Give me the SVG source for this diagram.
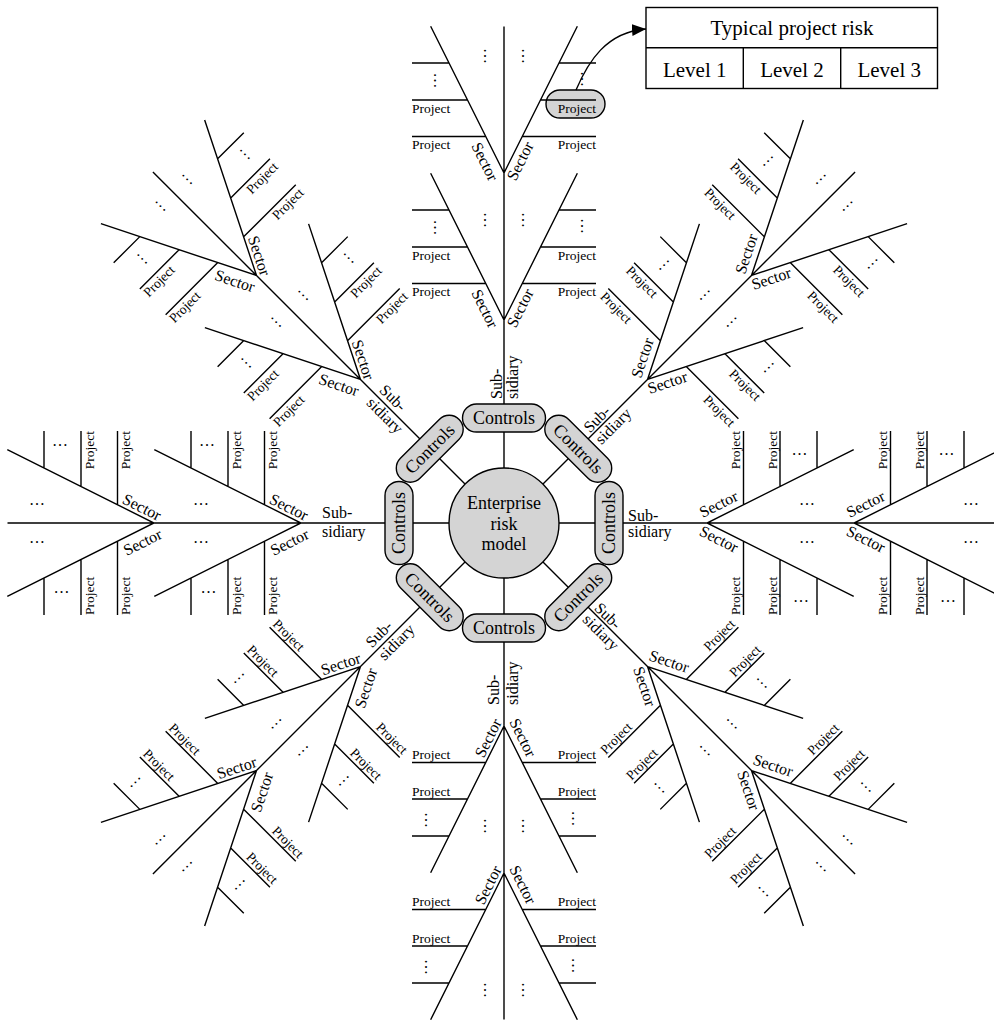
<svg xmlns="http://www.w3.org/2000/svg" xmlns:xlink="http://www.w3.org/1999/xlink" width="994" height="1021" viewBox="0 0 994 1021">
<style>
.ln{fill:none;stroke:#000;stroke-width:1.4}
.box{fill:#d4d4d4;stroke:#000;stroke-width:1.4}
.tb{fill:#fff;stroke:#000;stroke-width:1.4}
text{font-family:"Liberation Serif","Times New Roman",serif;fill:#000}
.pj{font-size:13.5px;text-anchor:middle;dominant-baseline:central}
.sc{font-size:16px;text-anchor:middle;dominant-baseline:central}
.sb{font-size:16px;text-anchor:start}
.dt{font-size:16px;text-anchor:middle}
.ct{font-size:18px;text-anchor:middle;dominant-baseline:central}
.cm{font-size:18px;text-anchor:middle}
.tt{font-size:21px;text-anchor:middle}
</style>
<defs>
<path id="armlines" class="ln" d="M504 523V26.5M430.65 173.3L504 320L577.35 173.3M430.65 26.3L504 173L577.35 26.3M412 283.5H485.75M412 247H467.5M412 210H449M522.25 283.5H596M540.5 247H596M559 210H596M412 136.5H485.75M412 100H467.5M412 63H449M522.25 136.5H596M540.5 100H596M559 63H596"/>
<marker id="arr" markerWidth="16" markerHeight="14" refX="14" refY="6" orient="auto" markerUnits="userSpaceOnUse"><path d="M0 0L14 6L0 12Z" fill="#000"/></marker>
</defs>

<!-- Arm N (0) -->
<g id="arm-n" transform="rotate(0 504 523)">
<rect class="box" x="546" y="90" width="59" height="28" rx="14"/>
<use xlink:href="#armlines"/>
<text class="pj" x="431.1" y="291.5">Project</text>
<text class="pj" x="431.1" y="255">Project</text>
<text class="pj" x="576.9" y="291.5">Project</text>
<text class="pj" x="576.9" y="255">Project</text>
<text class="pj" x="431.1" y="144.5">Project</text>
<text class="pj" x="431.1" y="108">Project</text>
<text class="pj" x="576.9" y="144.5">Project</text>
<text class="pj" x="576.9" y="108">Project</text>
<text class="sc" x="485" y="308.5" transform="rotate(63.43 485 308.5)">Sector</text>
<text class="sc" x="485" y="161.5" transform="rotate(63.43 485 161.5)">Sector</text>
<text class="sc" x="520" y="308" transform="rotate(-63.43 520 308)">Sector</text>
<text class="sc" x="520" y="161" transform="rotate(-63.43 520 161)">Sector</text>
<text class="sb" x="501.5" y="399" transform="rotate(-90 501.5 399)">Sub-</text>
<text class="sb" x="518" y="399" transform="rotate(-90 518 399)">sidiary</text>
<text class="dt" x="435" y="227.5" dy="0.8" transform="rotate(90 435 227.5)">…</text>
<text class="dt" x="581.5" y="226" dy="0.8" transform="rotate(90 581.5 226)">…</text>
<text class="dt" x="435" y="80.5" dy="0.8" transform="rotate(90 435 80.5)">…</text>
<text class="dt" x="581.5" y="79" dy="0.8" transform="rotate(90 581.5 79)">…</text>
<text class="dt" x="485" y="220" dy="0.8" transform="rotate(90 485 220)">…</text>
<text class="dt" x="523" y="220" dy="0.8" transform="rotate(90 523 220)">…</text>
<text class="dt" x="485" y="56" dy="0.8" transform="rotate(90 485 56)">…</text>
<text class="dt" x="523" y="56" dy="0.8" transform="rotate(90 523 56)">…</text>
</g>

<!-- Arm NE (45) -->
<g id="arm-ne" transform="rotate(45 504 523)">
<use xlink:href="#armlines"/>
<text class="pj" x="431.1" y="291.5">Project</text>
<text class="pj" x="431.1" y="255">Project</text>
<text class="pj" x="576.9" y="291.5">Project</text>
<text class="pj" x="576.9" y="255">Project</text>
<text class="pj" x="431.1" y="144.5">Project</text>
<text class="pj" x="431.1" y="108">Project</text>
<text class="pj" x="576.9" y="144.5">Project</text>
<text class="pj" x="576.9" y="108">Project</text>
<text class="sc" x="485" y="308.5" transform="rotate(243.43 485 308.5)">Sector</text>
<text class="sc" x="485" y="161.5" transform="rotate(243.43 485 161.5)">Sector</text>
<text class="sc" x="520" y="308" transform="rotate(-63.43 520 308)">Sector</text>
<text class="sc" x="520" y="161" transform="rotate(-63.43 520 161)">Sector</text>
<text class="sb" x="501.5" y="399" transform="rotate(-90 501.5 399)">Sub-</text>
<text class="sb" x="518" y="399" transform="rotate(-90 518 399)">sidiary</text>
<text class="dt" x="435" y="227.5" dy="0.8" transform="rotate(90 435 227.5)">…</text>
<text class="dt" x="581.5" y="226" dy="0.8" transform="rotate(90 581.5 226)">…</text>
<text class="dt" x="435" y="80.5" dy="0.8" transform="rotate(90 435 80.5)">…</text>
<text class="dt" x="581.5" y="79" dy="0.8" transform="rotate(90 581.5 79)">…</text>
<text class="dt" x="485" y="220" dy="0.8" transform="rotate(90 485 220)">…</text>
<text class="dt" x="523" y="220" dy="0.8" transform="rotate(90 523 220)">…</text>
<text class="dt" x="485" y="56" dy="0.8" transform="rotate(90 485 56)">…</text>
<text class="dt" x="523" y="56" dy="0.8" transform="rotate(90 523 56)">…</text>
</g>

<!-- Arm E (90) -->
<g id="arm-e" transform="rotate(90 504 523)">
<use xlink:href="#armlines"/>
<text class="pj" x="431.1" y="291.5" transform="rotate(180 431.1 291.5)">Project</text>
<text class="pj" x="431.1" y="255" transform="rotate(180 431.1 255)">Project</text>
<text class="pj" x="576.9" y="291.5" transform="rotate(180 576.9 291.5)">Project</text>
<text class="pj" x="576.9" y="255" transform="rotate(180 576.9 255)">Project</text>
<text class="pj" x="431.1" y="144.5" transform="rotate(180 431.1 144.5)">Project</text>
<text class="pj" x="431.1" y="108" transform="rotate(180 431.1 108)">Project</text>
<text class="pj" x="576.9" y="144.5" transform="rotate(180 576.9 144.5)">Project</text>
<text class="pj" x="576.9" y="108" transform="rotate(180 576.9 108)">Project</text>
<text class="sc" x="485" y="308.5" transform="rotate(243.43 485 308.5)">Sector</text>
<text class="sc" x="485" y="161.5" transform="rotate(243.43 485 161.5)">Sector</text>
<text class="sc" x="520" y="308" transform="rotate(-63.43 520 308)">Sector</text>
<text class="sc" x="520" y="161" transform="rotate(-63.43 520 161)">Sector</text>
<text class="sb" x="501.5" y="399" transform="rotate(-90 501.5 399)">Sub-</text>
<text class="sb" x="518" y="399" transform="rotate(-90 518 399)">sidiary</text>
<text class="dt" x="435" y="227.5" dy="0.8" transform="rotate(90 435 227.5)">…</text>
<text class="dt" x="581.5" y="226" dy="0.8" transform="rotate(90 581.5 226)">…</text>
<text class="dt" x="435" y="80.5" dy="0.8" transform="rotate(90 435 80.5)">…</text>
<text class="dt" x="581.5" y="79" dy="0.8" transform="rotate(90 581.5 79)">…</text>
<text class="dt" x="485" y="220" dy="0.8" transform="rotate(90 485 220)">…</text>
<text class="dt" x="523" y="220" dy="0.8" transform="rotate(90 523 220)">…</text>
<text class="dt" x="485" y="56" dy="0.8" transform="rotate(90 485 56)">…</text>
<text class="dt" x="523" y="56" dy="0.8" transform="rotate(90 523 56)">…</text>
</g>

<!-- Arm SE (135) -->
<g id="arm-se" transform="rotate(135 504 523)">
<use xlink:href="#armlines"/>
<text class="pj" x="431.1" y="291.5" transform="rotate(180 431.1 291.5)">Project</text>
<text class="pj" x="431.1" y="255" transform="rotate(180 431.1 255)">Project</text>
<text class="pj" x="576.9" y="291.5" transform="rotate(180 576.9 291.5)">Project</text>
<text class="pj" x="576.9" y="255" transform="rotate(180 576.9 255)">Project</text>
<text class="pj" x="431.1" y="144.5" transform="rotate(180 431.1 144.5)">Project</text>
<text class="pj" x="431.1" y="108" transform="rotate(180 431.1 108)">Project</text>
<text class="pj" x="576.9" y="144.5" transform="rotate(180 576.9 144.5)">Project</text>
<text class="pj" x="576.9" y="108" transform="rotate(180 576.9 108)">Project</text>
<text class="sc" x="485" y="308.5" transform="rotate(243.43 485 308.5)">Sector</text>
<text class="sc" x="485" y="161.5" transform="rotate(243.43 485 161.5)">Sector</text>
<text class="sc" x="520" y="308" transform="rotate(-63.43 520 308)">Sector</text>
<text class="sc" x="520" y="161" transform="rotate(-63.43 520 161)">Sector</text>
<text class="sb" x="501.5" y="399" transform="rotate(-90 501.5 399)">Sub-</text>
<text class="sb" x="518" y="399" transform="rotate(-90 518 399)">sidiary</text>
<text class="dt" x="435" y="227.5" dy="0.8" transform="rotate(90 435 227.5)">…</text>
<text class="dt" x="581.5" y="226" dy="0.8" transform="rotate(90 581.5 226)">…</text>
<text class="dt" x="435" y="80.5" dy="0.8" transform="rotate(90 435 80.5)">…</text>
<text class="dt" x="581.5" y="79" dy="0.8" transform="rotate(90 581.5 79)">…</text>
<text class="dt" x="485" y="220" dy="0.8" transform="rotate(90 485 220)">…</text>
<text class="dt" x="523" y="220" dy="0.8" transform="rotate(90 523 220)">…</text>
<text class="dt" x="485" y="56" dy="0.8" transform="rotate(90 485 56)">…</text>
<text class="dt" x="523" y="56" dy="0.8" transform="rotate(90 523 56)">…</text>
</g>

<!-- Arm S (180) -->
<g id="arm-s" transform="rotate(180 504 523)">
<use xlink:href="#armlines"/>
<text class="pj" x="431.1" y="291.5" transform="rotate(180 431.1 291.5)">Project</text>
<text class="pj" x="431.1" y="255" transform="rotate(180 431.1 255)">Project</text>
<text class="pj" x="576.9" y="291.5" transform="rotate(180 576.9 291.5)">Project</text>
<text class="pj" x="576.9" y="255" transform="rotate(180 576.9 255)">Project</text>
<text class="pj" x="431.1" y="144.5" transform="rotate(180 431.1 144.5)">Project</text>
<text class="pj" x="431.1" y="108" transform="rotate(180 431.1 108)">Project</text>
<text class="pj" x="576.9" y="144.5" transform="rotate(180 576.9 144.5)">Project</text>
<text class="pj" x="576.9" y="108" transform="rotate(180 576.9 108)">Project</text>
<text class="sc" x="485" y="308.5" transform="rotate(243.43 485 308.5)">Sector</text>
<text class="sc" x="485" y="161.5" transform="rotate(243.43 485 161.5)">Sector</text>
<text class="sc" x="520" y="308" transform="rotate(116.57 520 308)">Sector</text>
<text class="sc" x="520" y="161" transform="rotate(116.57 520 161)">Sector</text>
<text class="sb" x="508.7" y="341" transform="rotate(90 508.7 341)">Sub-</text>
<text class="sb" x="490.5" y="341" transform="rotate(90 490.5 341)">sidiary</text>
<text class="dt" x="435" y="227.5" dy="0.8" transform="rotate(90 435 227.5)">…</text>
<text class="dt" x="581.5" y="226" dy="0.8" transform="rotate(90 581.5 226)">…</text>
<text class="dt" x="435" y="80.5" dy="0.8" transform="rotate(90 435 80.5)">…</text>
<text class="dt" x="581.5" y="79" dy="0.8" transform="rotate(90 581.5 79)">…</text>
<text class="dt" x="485" y="220" dy="0.8" transform="rotate(90 485 220)">…</text>
<text class="dt" x="523" y="220" dy="0.8" transform="rotate(90 523 220)">…</text>
<text class="dt" x="485" y="56" dy="0.8" transform="rotate(90 485 56)">…</text>
<text class="dt" x="523" y="56" dy="0.8" transform="rotate(90 523 56)">…</text>
</g>

<!-- Arm SW (225) -->
<g id="arm-sw" transform="rotate(225 504 523)">
<use xlink:href="#armlines"/>
<text class="pj" x="431.1" y="291.5" transform="rotate(180 431.1 291.5)">Project</text>
<text class="pj" x="431.1" y="255" transform="rotate(180 431.1 255)">Project</text>
<text class="pj" x="576.9" y="291.5" transform="rotate(180 576.9 291.5)">Project</text>
<text class="pj" x="576.9" y="255" transform="rotate(180 576.9 255)">Project</text>
<text class="pj" x="431.1" y="144.5" transform="rotate(180 431.1 144.5)">Project</text>
<text class="pj" x="431.1" y="108" transform="rotate(180 431.1 108)">Project</text>
<text class="pj" x="576.9" y="144.5" transform="rotate(180 576.9 144.5)">Project</text>
<text class="pj" x="576.9" y="108" transform="rotate(180 576.9 108)">Project</text>
<text class="sc" x="485" y="308.5" transform="rotate(63.43 485 308.5)">Sector</text>
<text class="sc" x="485" y="161.5" transform="rotate(63.43 485 161.5)">Sector</text>
<text class="sc" x="520" y="308" transform="rotate(116.57 520 308)">Sector</text>
<text class="sc" x="520" y="161" transform="rotate(116.57 520 161)">Sector</text>
<text class="sb" x="508.7" y="341" transform="rotate(90 508.7 341)">Sub-</text>
<text class="sb" x="490.5" y="341" transform="rotate(90 490.5 341)">sidiary</text>
<text class="dt" x="435" y="227.5" dy="0.8" transform="rotate(90 435 227.5)">…</text>
<text class="dt" x="581.5" y="226" dy="0.8" transform="rotate(90 581.5 226)">…</text>
<text class="dt" x="435" y="80.5" dy="0.8" transform="rotate(90 435 80.5)">…</text>
<text class="dt" x="581.5" y="79" dy="0.8" transform="rotate(90 581.5 79)">…</text>
<text class="dt" x="485" y="220" dy="0.8" transform="rotate(90 485 220)">…</text>
<text class="dt" x="523" y="220" dy="0.8" transform="rotate(90 523 220)">…</text>
<text class="dt" x="485" y="56" dy="0.8" transform="rotate(90 485 56)">…</text>
<text class="dt" x="523" y="56" dy="0.8" transform="rotate(90 523 56)">…</text>
</g>

<!-- Arm W (270) -->
<g id="arm-w" transform="rotate(270 504 523)">
<use xlink:href="#armlines"/>
<text class="pj" x="431.1" y="291.5">Project</text>
<text class="pj" x="431.1" y="255">Project</text>
<text class="pj" x="576.9" y="291.5">Project</text>
<text class="pj" x="576.9" y="255">Project</text>
<text class="pj" x="431.1" y="144.5">Project</text>
<text class="pj" x="431.1" y="108">Project</text>
<text class="pj" x="576.9" y="144.5">Project</text>
<text class="pj" x="576.9" y="108">Project</text>
<text class="sc" x="485" y="308.5" transform="rotate(63.43 485 308.5)">Sector</text>
<text class="sc" x="485" y="161.5" transform="rotate(63.43 485 161.5)">Sector</text>
<text class="sc" x="520" y="308" transform="rotate(116.57 520 308)">Sector</text>
<text class="sc" x="520" y="161" transform="rotate(116.57 520 161)">Sector</text>
<text class="sb" x="508.7" y="341" transform="rotate(90 508.7 341)">Sub-</text>
<text class="sb" x="490.5" y="341" transform="rotate(90 490.5 341)">sidiary</text>
<text class="dt" x="435" y="227.5" dy="0.8" transform="rotate(90 435 227.5)">…</text>
<text class="dt" x="581.5" y="226" dy="0.8" transform="rotate(90 581.5 226)">…</text>
<text class="dt" x="435" y="80.5" dy="0.8" transform="rotate(90 435 80.5)">…</text>
<text class="dt" x="581.5" y="79" dy="0.8" transform="rotate(90 581.5 79)">…</text>
<text class="dt" x="485" y="220" dy="0.8" transform="rotate(90 485 220)">…</text>
<text class="dt" x="523" y="220" dy="0.8" transform="rotate(90 523 220)">…</text>
<text class="dt" x="485" y="56" dy="0.8" transform="rotate(90 485 56)">…</text>
<text class="dt" x="523" y="56" dy="0.8" transform="rotate(90 523 56)">…</text>
</g>

<!-- Arm NW (315) -->
<g id="arm-nw" transform="rotate(315 504 523)">
<use xlink:href="#armlines"/>
<text class="pj" x="431.1" y="291.5">Project</text>
<text class="pj" x="431.1" y="255">Project</text>
<text class="pj" x="576.9" y="291.5">Project</text>
<text class="pj" x="576.9" y="255">Project</text>
<text class="pj" x="431.1" y="144.5">Project</text>
<text class="pj" x="431.1" y="108">Project</text>
<text class="pj" x="576.9" y="144.5">Project</text>
<text class="pj" x="576.9" y="108">Project</text>
<text class="sc" x="485" y="308.5" transform="rotate(63.43 485 308.5)">Sector</text>
<text class="sc" x="485" y="161.5" transform="rotate(63.43 485 161.5)">Sector</text>
<text class="sc" x="520" y="308" transform="rotate(116.57 520 308)">Sector</text>
<text class="sc" x="520" y="161" transform="rotate(116.57 520 161)">Sector</text>
<text class="sb" x="508.7" y="341" transform="rotate(90 508.7 341)">Sub-</text>
<text class="sb" x="490.5" y="341" transform="rotate(90 490.5 341)">sidiary</text>
<text class="dt" x="435" y="227.5" dy="0.8" transform="rotate(90 435 227.5)">…</text>
<text class="dt" x="581.5" y="226" dy="0.8" transform="rotate(90 581.5 226)">…</text>
<text class="dt" x="435" y="80.5" dy="0.8" transform="rotate(90 435 80.5)">…</text>
<text class="dt" x="581.5" y="79" dy="0.8" transform="rotate(90 581.5 79)">…</text>
<text class="dt" x="485" y="220" dy="0.8" transform="rotate(90 485 220)">…</text>
<text class="dt" x="523" y="220" dy="0.8" transform="rotate(90 523 220)">…</text>
<text class="dt" x="485" y="56" dy="0.8" transform="rotate(90 485 56)">…</text>
<text class="dt" x="523" y="56" dy="0.8" transform="rotate(90 523 56)">…</text>
</g>

<!-- Controls -->
<g id="ctrl-n" transform="translate(504 418)"><rect class="box" x="-41.5" y="-14" width="83" height="28" rx="14"/><text class="ct">Controls</text></g>
<g id="ctrl-ne" transform="translate(578.25 448.75) rotate(45)"><rect class="box" x="-41.5" y="-14" width="83" height="28" rx="14"/><text class="ct">Controls</text></g>
<g id="ctrl-e" transform="translate(609 523) rotate(-90)"><rect class="box" x="-41.5" y="-14" width="83" height="28" rx="14"/><text class="ct">Controls</text></g>
<g id="ctrl-se" transform="translate(578.25 597.25) rotate(-45)"><rect class="box" x="-41.5" y="-14" width="83" height="28" rx="14"/><text class="ct">Controls</text></g>
<g id="ctrl-s" transform="translate(504 628)"><rect class="box" x="-41.5" y="-14" width="83" height="28" rx="14"/><text class="ct">Controls</text></g>
<g id="ctrl-sw" transform="translate(429.75 597.25) rotate(45)"><rect class="box" x="-41.5" y="-14" width="83" height="28" rx="14"/><text class="ct">Controls</text></g>
<g id="ctrl-w" transform="translate(399 523) rotate(-90)"><rect class="box" x="-41.5" y="-14" width="83" height="28" rx="14"/><text class="ct">Controls</text></g>
<g id="ctrl-nw" transform="translate(429.75 448.75) rotate(-45)"><rect class="box" x="-41.5" y="-14" width="83" height="28" rx="14"/><text class="ct">Controls</text></g>

<!-- Core -->
<g id="core">
<circle class="box" cx="504" cy="523" r="55"/>
<text class="cm" x="504" y="509">Enterprise</text>
<text class="cm" x="504" y="529.5">risk</text>
<text class="cm" x="504" y="550">model</text>
</g>

<!-- Typical project risk table -->
<g id="risk-table">
<rect class="tb" x="646" y="7.5" width="291.5" height="81"/>
<path class="ln" d="M646 47.7H937.5M743.3 47.7V88.5M840.7 47.7V88.5"/>
<text class="tt" x="792" y="34.5">Typical project risk</text>
<text class="tt" x="694.7" y="76.5">Level 1</text>
<text class="tt" x="792" y="76.5">Level 2</text>
<text class="tt" x="889.2" y="76.5">Level 3</text>
</g>

<!-- Connectors -->
<g id="connectors">
<path class="ln" d="M576 90C588 62 606 32 646 29" marker-end="url(#arr)"/>
</g>
</svg>
